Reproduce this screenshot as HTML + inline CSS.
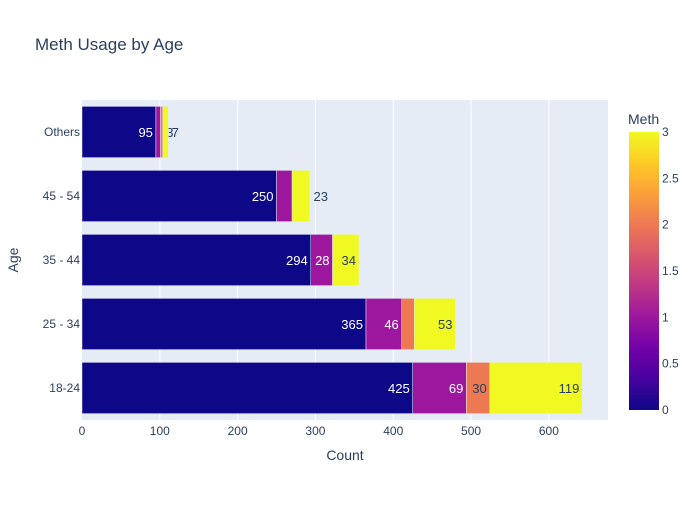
<!DOCTYPE html>
<html><head><meta charset="utf-8"><style>
body{margin:0;background:#fff;font-family:"Liberation Sans",sans-serif;}
svg text{font-family:"Liberation Sans",sans-serif;fill:#2a3f5f;}
</style></head><body>
<svg id="c" width="700" height="500">
<defs><linearGradient id="g" x1="0" y1="1" x2="0" y2="0">
<stop offset="0" stop-color="#0d0887"/><stop offset="0.111" stop-color="#46039f"/><stop offset="0.222" stop-color="#7201a8"/><stop offset="0.333" stop-color="#9c179e"/><stop offset="0.444" stop-color="#bd3786"/><stop offset="0.556" stop-color="#d8576b"/><stop offset="0.667" stop-color="#ed7953"/><stop offset="0.778" stop-color="#fb9f3a"/><stop offset="0.889" stop-color="#fdca26"/><stop offset="1" stop-color="#f0f921"/></linearGradient></defs>
<text x="35" y="50" font-size="17">Meth Usage by Age</text>
<rect x="82" y="100" width="526" height="320" fill="#e5ecf6"/>
<g id="grid"></g><g id="bars"></g><g id="axes"></g>
<text x="345" y="460" font-size="14" text-anchor="middle">Count</text>
<text x="18" y="260" font-size="14" text-anchor="middle" transform="rotate(-90 18 260)">Age</text>
<text x="628" y="124" font-size="14">Meth</text>
<rect x="629" y="132" width="30" height="278" fill="url(#g)"/>
<g id="cb"></g>
</svg>
<script>
const categories=["18-24","25 - 34","35 - 44","45 - 54","Others"];
const meth0=[425,365,294,250,95];
const meth1=[69,46,28,20,6];
const meth2=[30,16,0,0,3];
const meth3=[119,53,34,23,7];
const xTicks=[0,100,200,300,400,500,600];
const cbTicks=[0,0.5,1,1.5,2,2.5,3];
const colors=["#0d0887","#9c179e","#ed7953","#f0f921"];
const NS="http://www.w3.org/2000/svg";
const X0=82,X1=608,XMAX=676,Y0=100,Y1=420;
const x=v=>X0+v/XMAX*(X1-X0);
const band=(Y1-Y0)/categories.length;
const yc=i=>Y1-band*(i+0.5);
function mk(t,a,p){const e=document.createElementNS(NS,t);for(const k in a)e.setAttribute(k,a[k]);(p||document.getElementById('c')).appendChild(e);return e;}
const grid=document.getElementById('grid'),axes=document.getElementById('axes'),bars=document.getElementById('bars'),cb=document.getElementById('cb');
xTicks.forEach(t=>{
 if(t>0){const l=mk('line',{x1:x(t),x2:x(t),y1:Y0,y2:Y1,stroke:'#fff','stroke-width':1},grid);
 
 }
 const tx=mk('text',{x:x(t),y:Y1+15,'font-size':12,'text-anchor':'middle'},axes);tx.textContent=t;
 
 
});
const series=[meth0,meth1,meth2,meth3];
categories.forEach((c,i)=>{
 const tx=mk('text',{x:X0-2,y:yc(i)+4,'font-size':12,'text-anchor':'end'},axes);tx.textContent=c;
 
 
 let cum=0;const h=band*0.8;
 series.forEach((s,k)=>{
  const v=s[i];if(!v){return;}
  const r=mk('rect',{x:x(cum),y:yc(i)-h/2,width:x(cum+v)-x(cum),height:h,fill:colors[k],stroke:'#e5ecf6','stroke-width':0.5},bars);
  
  
  const w=x(cum+v)-x(cum);
  const lab=String(v);const tw=lab.length*7.5;
  let lx=null,col='#fff';
  if(w>=tw+4){lx=x(cum+v)-3;col=(k>=2)?'#2a3f5f':'#fff';}
  else if(k===series.length-1||series.slice(k+1).every(a=>!a[i])){lx=x(cum+v)+3+tw;col='#2a3f5f';}
  else if(k===2){lx=x(cum+v)+3+tw;col='#2a3f5f';}
  if(lx!==null){const t2=mk('text',{x:lx,y:yc(i)+5,'font-size':13,'text-anchor':'end'},bars);t2.textContent=lab;t2.style.fill=col;
   
   }
  cum+=v;
 });
});
cbTicks.forEach(t=>{const tx=mk('text',{x:662,y:410-t/3*278+4,'font-size':12},cb);tx.textContent=t;
 
 });
</script>
</body></html>
